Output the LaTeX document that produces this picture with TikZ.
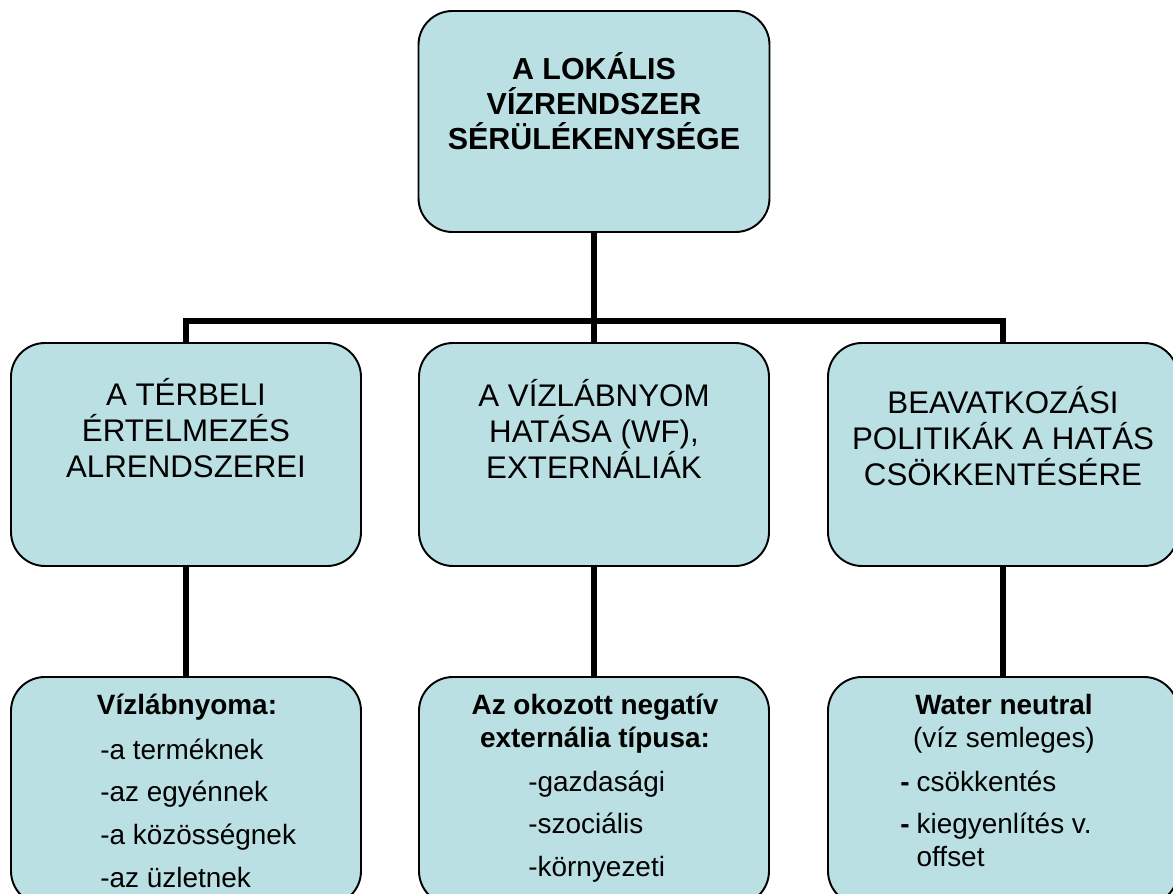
\documentclass[tikz,border=0pt]{standalone}
\usepackage{fontspec}
\setmainfont{Liberation Sans}
\definecolor{boxfill}{RGB}{187,224,227}

\begin{document}
\begin{tikzpicture}[
    box/.style={draw=black, line width=1.1pt, fill=boxfill, rounded corners=0.68cm,
      minimum width=7cm, minimum height=4.46cm, inner sep=0pt},
    link/.style={line width=3.1pt, black},
    bigtext/.style={align=center, inner sep=0pt, font=\fontsize{17.8}{20.6}\selectfont},
    smalltext/.style={align=center, inner sep=0pt, font=\fontsize{15.9}{18.7}\selectfont},
    listtext/.style={anchor=base west, inner sep=0pt, font=\fontsize{15.9}{24.4}\selectfont}
  ]
  \useasboundingbox (0,0) rectangle (23.46,17.86);
  \clip (0,0) rectangle (23.46,17.86);

  % boxes
  \node[box, minimum width=7.02cm, minimum height=4.42cm] (T) at (11.88,15.43) {};
  \node[box] (M1) at (3.72,8.77) {};
  \node[box] (M2) at (11.88,8.77) {};
  \node[box] (M3) at (20.06,8.77) {};
  \node[box, minimum height=4.56cm] (B1) at (3.72,2.04) {};
  \node[box, minimum height=4.56cm] (B2) at (11.88,2.04) {};
  \node[box, minimum height=4.56cm] (B3) at (20.06,2.04) {};

  % connectors
  \coordinate (J) at (11.88,11.44);
  \draw[link] (T.south) -- (M2.north);
  \draw[link] (M1.north) |- (J) -| (M3.north);
  \draw[link] (M1.south) -- (B1.north);
  \draw[link] (M2.south) -- (B2.north);
  \draw[link] (M3.south) -- (B3.north);

  % texts
  \node[bigtext, font=\bfseries\fontsize{17.3}{20}\selectfont] (Ttxt) at (11.88,15.84)
    {A LOKÁLIS\\VÍZRENDSZER\\SÉRÜLÉKENYSÉGE};
  \node[bigtext] (M1txt) at (3.72,9.3) {A TÉRBELI\\ÉRTELMEZÉS\\ALRENDSZEREI};
  \node[bigtext] (M2txt) at (11.88,9.28) {A VÍZLÁBNYOM\\HATÁSA (WF),\\EXTERNÁLIÁK};
  \node[bigtext] (M3txt) at (20.06,9.14) {BEAVATKOZÁSI\\POLITIKÁK A HATÁS\\CSÖKKENTÉSÉRE};

  \node[smalltext, font=\bfseries\fontsize{15.9}{18.7}\selectfont] (B1head) at (3.74,3.72)
    {Vízlábnyoma:};
  \node[listtext] (B1list) at (2.0,2.68)
    {\begin{tabular}[t]{@{}l@{}}-a terméknek\\-az egyénnek\\-a közösségnek\\-az üzletnek\end{tabular}};

  \node[smalltext, font=\bfseries\fontsize{15.9}{18.7}\selectfont] (B2head) at (11.9,3.39)
    {Az okozott negatív\\externália típusa:};
  \node[listtext] (B2list) at (10.56,2.04)
    {\begin{tabular}[t]{@{}l@{}}-gazdasági\\-szociális\\-környezeti\end{tabular}};

  \node[smalltext] (B3head) at (20.08,3.39) {\textbf{Water neutral}\\(víz semleges)};
  \node[listtext] (B3list) at (18.0,2.04)
    {\begin{tabular}[t]{@{}l@{\hspace{4pt}}l@{}}\textbf{-} & csökkentés\\
      \textbf{-} & kiegyenlítés v.\\[-5.7pt] & offset\end{tabular}};
\end{tikzpicture}
\end{document}
